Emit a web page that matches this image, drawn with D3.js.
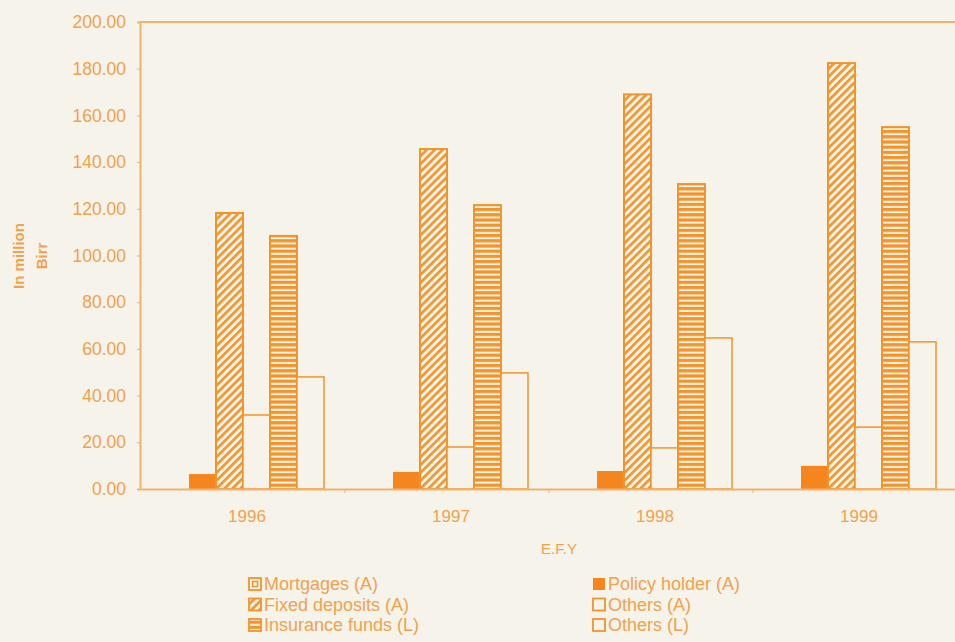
<!DOCTYPE html>
<html>
<head>
<meta charset="utf-8">
<script src="https://cdn.jsdelivr.net/npm/d3@7"></script>
<style>
    body { margin: 0; background: #f5f3ea; }
    svg { display: block; }
    text { font-family: "Liberation Sans", Arial, sans-serif; fill: #f1a24c; }
</style>
</head>
<body>
<svg id="chart"></svg>
<script>
// Categories (E.F.Y)
const years = ["1996", "1997", "1998", "1999"];

// Series values, in million Birr
const mortgages = [0, 0, 0, 0];
const policyHolder = [6.4, 7.3, 7.7, 9.9];
const fixedDeposits = [118.2, 145.6, 169.0, 182.4];
const othersA = [31.7, 18.0, 17.6, 26.5];
const insuranceFunds = [108.4, 121.6, 130.6, 155.0];
const othersL = [48.0, 49.7, 64.7, 63.0];

const seriesNames = ["Mortgages (A)", "Policy holder (A)", "Fixed deposits (A)", "Others (A)", "Insurance funds (L)", "Others (L)"];
const seriesValues = [mortgages, policyHolder, fixedDeposits, othersA, insuranceFunds, othersL];

// Tick labels
const yTicks = [0, 20, 40, 60, 80, 100, 120, 140, 160, 180, 200];

// Legend layout order (two columns)
const legendLeft = ["Mortgages (A)", "Fixed deposits (A)", "Insurance funds (L)"];
const legendRight = ["Policy holder (A)", "Others (A)", "Others (L)"];

const width = 955;
const height = 642;
const margin = { top: 22, right: -2, bottom: 153, left: 141 };
const orange = "#f2942a";
const solid = "#f5861f";
const light = "#f3b26c";
const bg = "#f5f3ea";

const svg = d3.select("#chart")
    .attr("width", width)
    .attr("height", height);

// Patterns for hatched bars
const defs = svg.append("defs");
const diag = defs.append("pattern")
    .attr("id", "diag")
    .attr("patternUnits", "userSpaceOnUse")
    .attr("width", 5.6).attr("height", 5.6)
    .attr("patternTransform", "rotate(45)");
diag.append("rect").attr("width", 5.6).attr("height", 5.6).attr("fill", bg);
diag.append("rect").attr("width", 2.6).attr("height", 5.6).attr("fill", orange);

const horiz = defs.append("pattern")
    .attr("id", "horiz")
    .attr("patternUnits", "userSpaceOnUse")
    .attr("width", 6).attr("height", 5.2);
horiz.append("rect").attr("width", 6).attr("height", 5.2).attr("fill", bg);
horiz.append("rect").attr("width", 6).attr("height", 3.2).attr("fill", orange);

const fills = {
    "Mortgages (A)": bg,
    "Policy holder (A)": solid,
    "Fixed deposits (A)": "url(#diag)",
    "Others (A)": bg,
    "Insurance funds (L)": "url(#horiz)",
    "Others (L)": bg
};

// Scales
const x0 = d3.scaleBand()
    .domain(years)
    .range([margin.left, width - margin.right]);

const groupWidth = 162;
const x1 = d3.scaleBand()
    .domain(seriesNames)
    .range([(x0.bandwidth() - groupWidth) / 2, (x0.bandwidth() + groupWidth) / 2]);

const y = d3.scaleLinear()
    .domain([0, 200])
    .range([height - margin.bottom, margin.top]);

// Plot frame (top border)
svg.append("line")
    .attr("x1", margin.left - 1).attr("x2", width)
    .attr("y1", y(200)).attr("y2", y(200))
    .attr("stroke", light).attr("stroke-width", 2);

// Bars
const groups = svg.selectAll(".group")
    .data(years)
    .enter()
    .append("g")
    .attr("class", "group")
    .attr("transform", d => `translate(${x0(d)},0)`);

groups.selectAll("rect")
    .data((d, i) => seriesNames.map((s, k) => ({ s, v: seriesValues[k][i] })).filter(e => e.v > 0))
    .enter()
    .append("rect")
    .attr("x", d => x1(d.s))
    .attr("y", d => y(d.v))
    .attr("width", x1.bandwidth())
    .attr("height", d => y(0) - y(d.v))
    .attr("fill", d => fills[d.s])
    .attr("stroke", d => d.s === "Policy holder (A)" ? "none" : orange)
    .attr("stroke-width", d => d.s.startsWith("Others") ? 1.5 : 2);

// Y axis
const yAxis = svg.append("g")
    .attr("transform", `translate(${margin.left - 1},0)`)
    .call(d3.axisLeft(y).tickValues(yTicks).tickFormat(d3.format(".2f")).tickSize(3).tickPadding(11));
yAxis.select(".domain").attr("stroke", light).attr("stroke-width", 2);
yAxis.selectAll(".tick line").attr("stroke", light);
yAxis.selectAll("text")
    .style("font-size", "17.5px")
    .attr("fill", "#f1a24c");

// X axis
const xAxis = svg.append("g")
    .attr("transform", `translate(0,${y(0)})`)
    .call(d3.axisBottom(x0).tickSize(0).tickPadding(21));
xAxis.select(".domain").attr("stroke", light).attr("stroke-width", 2);
xAxis.selectAll("text")
    .style("font-size", "17px")
    .attr("dx", "4")
    .attr("fill", "#f1a24c");

// small tick marks between categories
svg.append("g")
    .selectAll("line")
    .data(years)
    .enter()
    .append("line")
    .attr("x1", d => x0(d) + x0.bandwidth())
    .attr("x2", d => x0(d) + x0.bandwidth())
    .attr("y1", y(0)).attr("y2", y(0) + 4)
    .attr("stroke", light);

// Axis titles
svg.append("text")
    .attr("x", 559).attr("y", 554)
    .attr("text-anchor", "middle")
    .style("font-size", "15px")
    .text("E.F.Y");

svg.append("text")
    .attr("transform", "translate(24,256) rotate(-90)")
    .attr("text-anchor", "middle")
    .style("font-size", "15px")
    .style("font-weight", "bold")
    .text("In million");

svg.append("text")
    .attr("transform", "translate(47,256) rotate(-90)")
    .attr("text-anchor", "middle")
    .style("font-size", "15px")
    .style("font-weight", "bold")
    .text("Birr");

// Legend
function drawLegend(items, lx) {
    const lg = svg.append("g").attr("transform", `translate(${lx},0)`);
    const row = lg.selectAll("g")
        .data(items)
        .enter()
        .append("g")
        .attr("transform", (d, i) => `translate(0,${590 + i * 20.5})`);
    row.append("rect")
        .attr("x", 0).attr("y", -12)
        .attr("width", 12).attr("height", 12)
        .attr("fill", d => fills[d])
        .attr("stroke", d => d === "Policy holder (A)" ? "none" : orange)
        .attr("stroke-width", 1.8);
    row.filter(d => d === "Mortgages (A)")
        .append("rect")
        .attr("x", 3.5).attr("y", -8.5)
        .attr("width", 5).attr("height", 5)
        .attr("fill", "none").attr("stroke", orange).attr("stroke-width", 1.5);
    row.append("text")
        .attr("x", 15)
        .attr("y", 0)
        .style("font-size", "18px")
        .text(d => d);
}

drawLegend(legendLeft, 249);
drawLegend(legendRight, 593);
</script>
</body>
</html>
